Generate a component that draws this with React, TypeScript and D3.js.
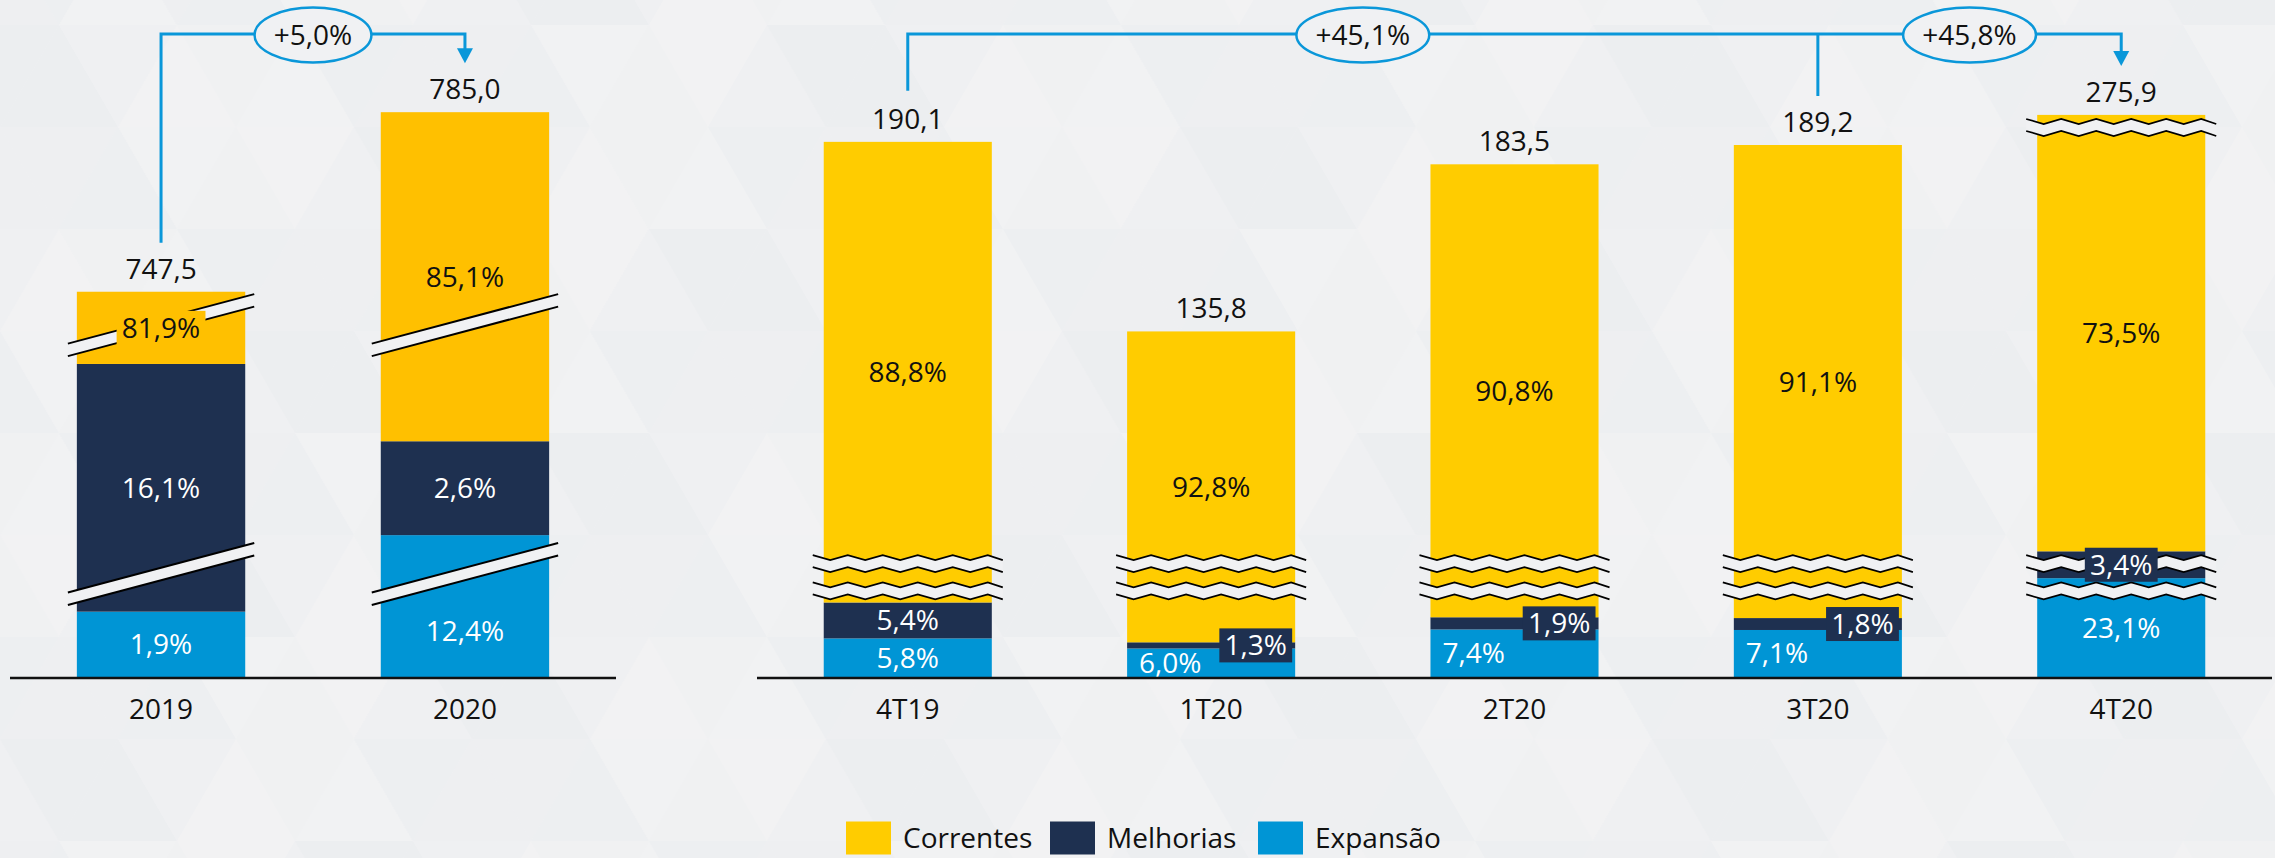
import React from 'react';
import * as d3 from 'd3';

// Investimentos (R$ milhões) – anual
const years = ['2019', '2020'];
const yearTotals = [747.5, 785.0];
const yearCorrentes = [81.9, 85.1];
const yearMelhorias = [16.1, 2.6];
const yearExpansao = [1.9, 12.4];
// value hidden by the axis breaks (R$ milhões)
const yearCutCorrentes = [596.5, 596.5];
const yearCutMelhorias = [66.5, 0];
const yearCutExpansao = [0, 66.5];
const yearBreakLevels = [22.4, 76.5];

// trimestral
const quarters = ['4T19', '1T20', '2T20', '3T20', '4T20'];
const qTotals = [190.1, 135.8, 183.5, 189.2, 275.9];
const qCorrentes = [88.8, 92.8, 90.8, 91.1, 73.5];
const qMelhorias = [5.4, 1.3, 1.9, 1.8, 3.4];
const qExpansao = [5.8, 6.0, 7.4, 7.1, 23.1];
const qCutCorrentes = [37.2, 37.2, 37.2, 37.2, 78.1];
const qCutMelhorias = [0, 0, 0, 0, 1.7];
const qCutExpansao = [0, 0, 0, 0, 35.5];
const qBreakLevels = [24.6, 32.4];
const qTopBreak = [null, null, null, null, 157];

const seriesNames = ['Correntes', 'Melhorias', 'Expansão'];

const W = 2275;
const H = 858;
const BASE = 677;
const BG = '#F0F1F3';
const NAVY = '#1E3050';
const BLUE = '#0095D5';
const YELLOW_L = '#FFC000';
const YELLOW_R = '#FFCC00';
const LINE_BLUE = '#0A97D9';
const FONT = "'Open Sans', 'Liberation Sans', sans-serif";
const FS = 28;

const fmt = (v: number) => v.toFixed(1).replace('.', ',');

// rough Open Sans advance widths, used only to size label boxes
const textW = (s: string) =>
  s.split('').reduce((a, ch) => a + (ch === ',' ? 0.26 : ch === '%' ? 0.84 : 0.572), 0) * FS;

const xYears = d3.scaleBand<string>().domain(years).range([10, 616]).paddingInner(0.446).paddingOuter(0.22);
const xQuarters = d3.scaleBand<string>().domain(quarters).range([757, 2272]).paddingInner(0.446).paddingOuter(0.22);
const yYears = d3.scaleLinear().domain([0, 130]).range([BASE, BASE - 130 * 4.6]);
const yQuarters = d3.scaleLinear().domain([0, 160]).range([BASE, BASE - 160 * 3.5]);

type Seg = { s: number; pct: number; y0: number; y1: number };
type Bar = { cat: string; total: number; segs: Seg[]; top: number; x: number; w: number; breaks: number[]; topBreak: number | null };

function buildBars(
  cats: string[], totals: number[], shares: number[][], cuts: number[][],
  x: d3.ScaleBand<string>, y: d3.ScaleLinear<number, number>, levels: number[], topBreaks: (number | null)[]
): Bar[] {
  return cats.map((c, i) => {
    let acc = 0;
    const segs = [2, 1, 0].map((s) => {
      const value = (totals[i] * shares[s][i]) / 100;
      const shown = value - cuts[s][i];
      const y0 = y(acc);
      acc += shown;
      return { s, pct: shares[s][i], y0, y1: y(acc) };
    });
    const tb = topBreaks[i];
    return {
      cat: c, total: totals[i], segs, top: y(acc), x: x(c) as number, w: x.bandwidth(),
      breaks: levels.map((l) => y(l)), topBreak: tb == null ? null : y(tb),
    };
  });
}

const yearBars = buildBars(years, yearTotals, [yearCorrentes, yearMelhorias, yearExpansao],
  [yearCutCorrentes, yearCutMelhorias, yearCutExpansao], xYears, yYears, yearBreakLevels, [null, null]);
const quarterBars = buildBars(quarters, qTotals, [qCorrentes, qMelhorias, qExpansao],
  [qCutCorrentes, qCutMelhorias, qCutExpansao], xQuarters, yQuarters, qBreakLevels, qTopBreak);

function zigzag(x0: number, x1: number, y: number) {
  const half = 17.5;
  const pts: [number, number][] = [];
  let k = 0;
  for (let x = x0; x < x1; x += half, k++) pts.push([x, y + (k % 2 ? 2.5 : -2.5)]);
  pts.push([x1, y + (k % 2 ? 2.5 : -2.5)]);
  return pts;
}

const Background = () => {
  const th = 102, tb = 118;
  const shades = ['#EFF0F2', '#EDEFF1', '#F1F2F3', '#ECEEF0', '#F0F1F2', '#EEEFF1', '#F2F2F3'];
  const tris: { d: string; f: string }[] = [];
  d3.range(-1, 9).forEach((r) => {
    const yT = 25 + r * th;
    const yB = yT + th;
    const shift = (r % 2 === 0 ? 0 : tb / 2) - tb;
    d3.range(0, 22).forEach((c) => {
      const x = shift + c * tb;
      tris.push({ d: `M${x},${yB}L${x + tb / 2},${yT}L${x + tb},${yB}Z`, f: shades[Math.abs(r * 5 + c * 3) % 7] });
      tris.push({ d: `M${x + tb / 2},${yT}L${x + tb * 1.5},${yT}L${x + tb},${yB}Z`, f: shades[Math.abs(r * 2 + c * 4 + 3) % 7] });
    });
  });
  return (
    <g>
      <rect width={W} height={H} fill={BG} />
      {tris.map((t, i) => <path key={i} d={t.d} fill={t.f} />)}
    </g>
  );
};

const SlashBreak = ({ bar, yc }: { bar: Bar; yc: number }) => {
  const L = bar.x - 9, R = bar.x + bar.w + 9, dy = 24.75, sep = 6.25;
  return (
    <g>
      <path d={`M${L},${yc + dy - sep}L${R},${yc - dy - sep}L${R},${yc - dy + sep}L${L},${yc + dy + sep}Z`} fill={BG} />
      <line x1={L} y1={yc + dy - sep} x2={R} y2={yc - dy - sep} stroke="#000" strokeWidth={2} />
      <line x1={L} y1={yc + dy + sep} x2={R} y2={yc - dy + sep} stroke="#000" strokeWidth={2} />
    </g>
  );
};

const WaveBreak = ({ bar, yc }: { bar: Bar; yc: number }) => {
  const L = bar.x - 11, R = bar.x + bar.w + 11;
  const a = zigzag(L, R, yc - 6);
  const b = zigzag(L, R, yc + 6);
  const line = d3.line();
  return (
    <g>
      <path d={(line(a) as string) + 'L' + [...b].reverse().map((p) => p.join(',')).join('L') + 'Z'} fill={BG} />
      <path d={line(a) as string} fill="none" stroke="#000" strokeWidth={1.7} />
      <path d={line(b) as string} fill="none" stroke="#000" strokeWidth={1.7} />
    </g>
  );
};

const Bars = ({ bars, yellow, slash }: { bars: Bar[]; yellow: string; slash: boolean }) => {
  const colors = [yellow, NAVY, BLUE];
  return (
    <g>
      {bars.map((bar) => {
        const navy = bar.segs[1];
        const navyH = navy.y0 - navy.y1;
        const rightBox = navyH < 16;
        const allBreaks = bar.topBreak == null ? bar.breaks : [...bar.breaks, bar.topBreak];
        return (
          <g key={bar.cat}>
            {bar.segs.map((sg) => (
              <rect key={sg.s} x={bar.x} y={sg.y1} width={bar.w} height={sg.y0 - sg.y1} fill={colors[sg.s]} />
            ))}
            {allBreaks.map((yc, i) =>
              slash ? <SlashBreak key={i} bar={bar} yc={yc} /> : <WaveBreak key={i} bar={bar} yc={yc} />
            )}
            {bar.segs.map((sg) => {
              const label = `${fmt(sg.pct)}%`;
              const h = sg.y0 - sg.y1;
              let mid = (sg.y0 + sg.y1) / 2;
              // a tall segment crossed by a slanted break: centre the label in the part below it
              if (slash) {
                const b = allBreaks.find((yc) => yc < sg.y0 && yc > sg.y1 && sg.y0 - yc > 90 && Math.abs(yc - mid) < 40);
                if (b != null) mid = (sg.y0 + b + 12) / 2;
              }
              const tw = textW(label);
              let cx = bar.x + bar.w / 2;
              let anchor: 'middle' | 'start' = 'middle';
              let boxed = allBreaks.some((b) => Math.abs(b - mid) < 20);
              if (sg.s === 1 && h < 30) boxed = true;
              if (sg.s === 1 && rightBox) cx = bar.x + bar.w - 3 - (tw + 10) / 2;
              if (sg.s === 2 && rightBox) {
                anchor = 'start';
                cx = bar.x + 12;
              }
              const fill = sg.s === 0 ? '#111' : '#fff';
              return (
                <g key={'l' + sg.s}>
                  {boxed && (
                    <rect x={cx - (tw + 10) / 2} y={mid - 17} width={tw + 10} height={34} fill={colors[sg.s]} />
                  )}
                  <text x={cx} y={mid + 10} textAnchor={anchor} fill={fill} fontSize={FS}>
                    {label}
                  </text>
                </g>
              );
            })}
            <text x={bar.x + bar.w / 2} y={bar.top - 23 + 10} textAnchor="middle" fill="#111" fontSize={FS}>
              {fmt(bar.total)}
            </text>
            <text x={bar.x + bar.w / 2} y={709 + 10} textAnchor="middle" fill="#111" fontSize={FS}>
              {bar.cat}
            </text>
          </g>
        );
      })}
    </g>
  );
};

const Badge = ({ cx, label }: { cx: number; label: string }) => (
  <g>
    <ellipse cx={cx} cy={35} rx={textW(label) / 2 + 19} ry={27.5} fill={BG} stroke={LINE_BLUE} strokeWidth={2.5} />
    <text x={cx} y={45} textAnchor="middle" fill="#111" stroke="none" fontSize={FS}>
      {label}
    </text>
  </g>
);

const Arrow = ({ x, tip }: { x: number; tip: number }) => (
  <path d={`M${x - 8},${tip - 15}L${x + 8},${tip - 15}L${x},${tip}Z`} fill={LINE_BLUE} stroke="none" />
);

const growth = (a: number, b: number) => `+${fmt((b / a - 1) * 100)}%`;

const Annotations = () => {
  const c = (b: Bar) => b.x + b.w / 2;
  const labY = (b: Bar) => b.top - 23;
  const y0 = 34;
  const [a19, a20] = yearBars;
  const q0 = quarterBars[0];
  const q3 = quarterBars[3];
  const q4 = quarterBars[4];
  const tipL = labY(a20) - 26;
  const tipR = labY(q4) - 26;
  return (
    <g>
      <g fill="none" stroke={LINE_BLUE} strokeWidth={3}>
        <path d={`M${c(a19)},${labY(a19) - 26}V${y0}H${c(a20)}V${tipL - 14}`} />
        <path d={`M${c(q0)},${labY(q0) - 28}V${y0}H${c(q4)}V${tipR - 14}`} />
        <path d={`M${c(q3)},${labY(q3) - 26}V${y0}`} />
      </g>
      <Arrow x={c(a20)} tip={tipL} />
      <Arrow x={c(q4)} tip={tipR} />
      <Badge cx={(c(a19) + c(a20)) / 2} label={growth(a19.total, a20.total)} />
      <Badge cx={(c(q0) + c(q3)) / 2} label={growth(q0.total, q4.total)} />
      <Badge cx={(c(q3) + c(q4)) / 2} label={growth(q3.total, q4.total)} />
    </g>
  );
};

const legendColors = [YELLOW_R, NAVY, BLUE];
const legendX = [846, 1050, 1258];

const Legend = () => (
  <g>
    {seriesNames.map((n, i) => (
      <g key={n}>
        <rect x={legendX[i]} y={821.5} width={45} height={33} fill={legendColors[i]} />
        <text x={legendX[i] + 57} y={838 + 10} fill="#111" fontSize={FS}>
          {n}
        </text>
      </g>
    ))}
  </g>
);

export default function App() {
  return (
    <svg width={W} height={H} style={{ position: 'absolute', left: 0, top: 0 }} fontFamily={FONT}>
      <Background />
      <Bars bars={yearBars} yellow={YELLOW_L} slash={true} />
      <Bars bars={quarterBars} yellow={YELLOW_R} slash={false} />
      <line x1={10} x2={616} y1={678} y2={678} stroke="#111" strokeWidth={2.5} />
      <line x1={757} x2={2272} y1={678} y2={678} stroke="#111" strokeWidth={2.5} />
      <Annotations />
      <Legend />
    </svg>
  );
}
